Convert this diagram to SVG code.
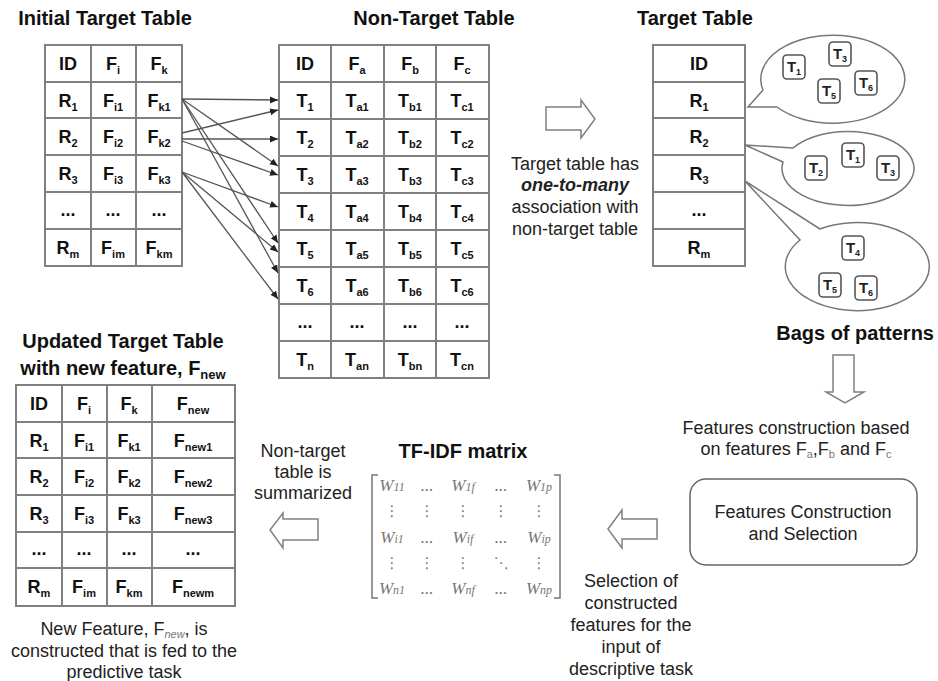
<svg xmlns="http://www.w3.org/2000/svg" width="938" height="681" viewBox="0 0 938 681">
<defs>
<style>
text{font-family:"Liberation Sans",Arial,sans-serif}
.title{font-size:20px;font-weight:bold;fill:#111}
.cell{font-size:18px;font-weight:bold;fill:#111;text-anchor:middle}
.sub{font-size:11px}
.body{font-size:18px;fill:#222;text-anchor:middle}
.grid{stroke:#808080;stroke-width:2;fill:#fff}
.gl{stroke:#808080;stroke-width:2;fill:none}
.conn{stroke:#555;stroke-width:1.3;fill:none;marker-end:url(#ah)}
.blk{fill:#fff;stroke:#808080;stroke-width:1.5}
.bub{fill:#fff;stroke:#777;stroke-width:1.5}
.tb{fill:#fff;stroke:#555;stroke-width:1.6}
.tt{font-size:15px;font-weight:bold;fill:#222;text-anchor:middle}
.ts{font-size:9px}
.w{font-family:"Liberation Serif",serif;font-style:italic;font-size:17px;fill:#777;text-anchor:middle}
.ws{font-size:12px}
.vd{font-family:"DejaVu Sans",sans-serif;font-size:15px;fill:#777;text-anchor:middle}
</style>
<marker id="ah" markerUnits="userSpaceOnUse" markerWidth="9" markerHeight="8" refX="8" refY="3.5" orient="auto">
<path d="M0,0 L8,3.5 L0,7 z" fill="#222"/>
</marker>
</defs>
<rect width="938" height="681" fill="#fff"/>

<!-- Initial Target Table -->
<g id="initial-table">
<text class="title" x="105" y="25" text-anchor="middle">Initial Target Table</text>
<rect class="grid" x="45" y="45" width="137" height="221"/>
<path class="gl" d="M91,45V266M136,45V266M45,82H182M45,118H182M45,155H182M45,192H182M45,229H182"/>
<text class="cell" x="68" y="70">ID</text>
<text class="cell" x="113" y="70">F<tspan class="sub" dy="4">i</tspan></text>
<text class="cell" x="159" y="70">F<tspan class="sub" dy="4">k</tspan></text>
<text class="cell" x="68" y="107">R<tspan class="sub" dy="4">1</tspan></text>
<text class="cell" x="113" y="107">F<tspan class="sub" dy="4">i1</tspan></text>
<text class="cell" x="159" y="107">F<tspan class="sub" dy="4">k1</tspan></text>
<text class="cell" x="68" y="143">R<tspan class="sub" dy="4">2</tspan></text>
<text class="cell" x="113" y="143">F<tspan class="sub" dy="4">i2</tspan></text>
<text class="cell" x="159" y="143">F<tspan class="sub" dy="4">k2</tspan></text>
<text class="cell" x="68" y="180">R<tspan class="sub" dy="4">3</tspan></text>
<text class="cell" x="113" y="180">F<tspan class="sub" dy="4">i3</tspan></text>
<text class="cell" x="159" y="180">F<tspan class="sub" dy="4">k3</tspan></text>
<text class="cell" x="68" y="216">...</text>
<text class="cell" x="113" y="216">...</text>
<text class="cell" x="159" y="216">...</text>
<text class="cell" x="68" y="254">R<tspan class="sub" dy="4">m</tspan></text>
<text class="cell" x="113" y="254">F<tspan class="sub" dy="4">im</tspan></text>
<text class="cell" x="159" y="254">F<tspan class="sub" dy="4">km</tspan></text>
</g>

<!-- Non-Target Table -->
<g id="non-target-table">
<text class="title" x="434" y="25" text-anchor="middle">Non-Target Table</text>
<rect class="grid" x="279" y="45" width="210" height="333"/>
<path class="gl" d="M331,45V378M384,45V378M436,45V378M279,82H489M279,119H489M279,156H489M279,193H489M279,230H489M279,267H489M279,304H489M279,341H489"/>
<text class="cell" x="305" y="70">ID</text>
<text class="cell" x="357" y="70">F<tspan class="sub" dy="4">a</tspan></text>
<text class="cell" x="410" y="70">F<tspan class="sub" dy="4">b</tspan></text>
<text class="cell" x="462" y="70">F<tspan class="sub" dy="4">c</tspan></text>
<text class="cell" x="305" y="107">T<tspan class="sub" dy="4">1</tspan></text>
<text class="cell" x="357" y="107">T<tspan class="sub" dy="4">a1</tspan></text>
<text class="cell" x="410" y="107">T<tspan class="sub" dy="4">b1</tspan></text>
<text class="cell" x="462" y="107">T<tspan class="sub" dy="4">c1</tspan></text>
<text class="cell" x="305" y="144">T<tspan class="sub" dy="4">2</tspan></text>
<text class="cell" x="357" y="144">T<tspan class="sub" dy="4">a2</tspan></text>
<text class="cell" x="410" y="144">T<tspan class="sub" dy="4">b2</tspan></text>
<text class="cell" x="462" y="144">T<tspan class="sub" dy="4">c2</tspan></text>
<text class="cell" x="305" y="181">T<tspan class="sub" dy="4">3</tspan></text>
<text class="cell" x="357" y="181">T<tspan class="sub" dy="4">a3</tspan></text>
<text class="cell" x="410" y="181">T<tspan class="sub" dy="4">b3</tspan></text>
<text class="cell" x="462" y="181">T<tspan class="sub" dy="4">c3</tspan></text>
<text class="cell" x="305" y="218">T<tspan class="sub" dy="4">4</tspan></text>
<text class="cell" x="357" y="218">T<tspan class="sub" dy="4">a4</tspan></text>
<text class="cell" x="410" y="218">T<tspan class="sub" dy="4">b4</tspan></text>
<text class="cell" x="462" y="218">T<tspan class="sub" dy="4">c4</tspan></text>
<text class="cell" x="305" y="255">T<tspan class="sub" dy="4">5</tspan></text>
<text class="cell" x="357" y="255">T<tspan class="sub" dy="4">a5</tspan></text>
<text class="cell" x="410" y="255">T<tspan class="sub" dy="4">b5</tspan></text>
<text class="cell" x="462" y="255">T<tspan class="sub" dy="4">c5</tspan></text>
<text class="cell" x="305" y="292">T<tspan class="sub" dy="4">6</tspan></text>
<text class="cell" x="357" y="292">T<tspan class="sub" dy="4">a6</tspan></text>
<text class="cell" x="410" y="292">T<tspan class="sub" dy="4">b6</tspan></text>
<text class="cell" x="462" y="292">T<tspan class="sub" dy="4">c6</tspan></text>
<text class="cell" x="305" y="328">...</text>
<text class="cell" x="357" y="328">...</text>
<text class="cell" x="410" y="328">...</text>
<text class="cell" x="462" y="328">...</text>
<text class="cell" x="305" y="366">T<tspan class="sub" dy="4">n</tspan></text>
<text class="cell" x="357" y="366">T<tspan class="sub" dy="4">an</tspan></text>
<text class="cell" x="410" y="366">T<tspan class="sub" dy="4">bn</tspan></text>
<text class="cell" x="462" y="366">T<tspan class="sub" dy="4">cn</tspan></text>
</g>

<!-- Connectors -->
<g id="connectors">
<path class="conn" d="M182,99L278,100"/>
<path class="conn" d="M182,99L278,166"/>
<path class="conn" d="M182,99L278,243"/>
<path class="conn" d="M182,99L278,273"/>
<path class="conn" d="M182,133L278,110"/>
<path class="conn" d="M182,139L278,139"/>
<path class="conn" d="M182,141L278,175"/>
<path class="conn" d="M182,172L278,207"/>
<path class="conn" d="M182,172L278,252"/>
<path class="conn" d="M182,172L278,299"/>
</g>

<!-- Association arrow and text -->
<g id="association">
<path class="blk" d="M546,107H581V100L595,119L581,138V130H546Z"/>
<text class="body" x="575" y="170">Target table has</text>
<text class="body" x="575" y="191" font-style="italic" font-weight="bold">one-to-many</text>
<text class="body" x="575" y="213">association with</text>
<text class="body" x="575" y="235">non-target table</text>
</g>

<!-- Target Table -->
<g id="target-table">
<text class="title" x="695" y="25" text-anchor="middle">Target Table</text>
<rect class="grid" x="653" y="45" width="92" height="221"/>
<path class="gl" d="M653,82H745M653,118H745M653,155H745M653,192H745M653,229H745"/>
<text class="cell" x="699" y="70">ID</text>
<text class="cell" x="699" y="107">R<tspan class="sub" dy="4">1</tspan></text>
<text class="cell" x="699" y="143">R<tspan class="sub" dy="4">2</tspan></text>
<text class="cell" x="699" y="180">R<tspan class="sub" dy="4">3</tspan></text>
<text class="cell" x="699" y="216">...</text>
<text class="cell" x="699" y="254">R<tspan class="sub" dy="4">m</tspan></text>
</g>

<!-- Bubbles -->
<g id="bubble-r1">
<path class="bub" d="M763,90L748,107L777,107A72,44 0 1 0 763,90Z"/>
<rect class="tb" x="783" y="55" width="22" height="24" rx="4"/><text class="tt" x="794" y="72">T<tspan class="ts" dy="3">1</tspan></text>
<rect class="tb" x="829" y="42" width="22" height="24" rx="4"/><text class="tt" x="840" y="59">T<tspan class="ts" dy="3">3</tspan></text>
<rect class="tb" x="855" y="71" width="22" height="24" rx="4"/><text class="tt" x="866" y="88">T<tspan class="ts" dy="3">6</tspan></text>
<rect class="tb" x="818" y="79" width="22" height="24" rx="4"/><text class="tt" x="829" y="96">T<tspan class="ts" dy="3">5</tspan></text>
</g>
<g id="bubble-r2">
<path class="bub" d="M793,148L745,145L783,162A66,37 0 1 0 793,148Z"/>
<rect class="tb" x="805" y="156" width="22" height="24" rx="4"/><text class="tt" x="816" y="173">T<tspan class="ts" dy="3">2</tspan></text>
<rect class="tb" x="842" y="143" width="22" height="24" rx="4"/><text class="tt" x="853" y="160">T<tspan class="ts" dy="3">1</tspan></text>
<rect class="tb" x="877" y="156" width="22" height="24" rx="4"/><text class="tt" x="888" y="173">T<tspan class="ts" dy="3">3</tspan></text>
</g>
<g id="bubble-r3">
<path class="bub" d="M820,229L745,181L800,240A72,44 0 1 0 820,229Z"/>
<rect class="tb" x="842" y="236" width="22" height="24" rx="4"/><text class="tt" x="853" y="253">T<tspan class="ts" dy="3">4</tspan></text>
<rect class="tb" x="819" y="273" width="22" height="24" rx="4"/><text class="tt" x="830" y="290">T<tspan class="ts" dy="3">5</tspan></text>
<rect class="tb" x="855" y="276" width="22" height="24" rx="4"/><text class="tt" x="866" y="293">T<tspan class="ts" dy="3">6</tspan></text>
</g>

<!-- Bags of patterns and down arrow -->
<g id="bags">
<text class="title" x="934" y="340" text-anchor="end" font-size="17">Bags of patterns</text>
<path class="blk" d="M833,355H854V392H864L845,403L826,392H833Z"/>
<text class="body" x="796" y="434">Features construction based</text>
<text class="body" x="796" y="455">on features F<tspan class="sub" dy="3" fill="#777">a</tspan><tspan dy="-3">,F</tspan><tspan class="sub" dy="3" fill="#777">b</tspan><tspan dy="-3"> and F</tspan><tspan class="sub" dy="3" fill="#777">c</tspan></text>
</g>

<!-- Features Construction and Selection -->
<g id="feature-box">
<rect x="690" y="479" width="227" height="86" rx="16" fill="#fff" stroke="#666" stroke-width="1.5"/>
<text class="body" x="803" y="518">Features Construction</text>
<text class="body" x="803" y="540">and Selection</text>
</g>

<!-- Selection arrow -->
<g id="selection">
<path class="blk" d="M657,519H622V510L608,529L622,548V539H657Z"/>
<text class="body" x="631" y="587">Selection of</text>
<text class="body" x="631" y="609">constructed</text>
<text class="body" x="631" y="631">features for the</text>
<text class="body" x="631" y="653">input of</text>
<text class="body" x="631" y="675">descriptive task</text>
</g>

<!-- TF-IDF matrix -->
<g id="tfidf-matrix">
<text class="title" x="463" y="458" text-anchor="middle">TF-IDF matrix</text>
<path d="M378,475H372V598H378M554,475H560V598H554" fill="none" stroke="#777" stroke-width="1.5"/>
<text class="w" x="392" y="491">W<tspan class="ws">11</tspan></text>
<text class="w" x="427" y="491">...</text>
<text class="w" x="463" y="491">W<tspan class="ws">1f</tspan></text>
<text class="w" x="501" y="491">...</text>
<text class="w" x="539" y="491">W<tspan class="ws">1p</tspan></text>
<text class="vd" x="392" y="516">⋮</text>
<text class="vd" x="427" y="516">⋮</text>
<text class="vd" x="463" y="516">⋮</text>
<text class="vd" x="501" y="516">⋮</text>
<text class="vd" x="539" y="516">⋮</text>
<text class="w" x="392" y="543">W<tspan class="ws">i1</tspan></text>
<text class="w" x="427" y="543">...</text>
<text class="w" x="463" y="543">W<tspan class="ws">if</tspan></text>
<text class="w" x="501" y="543">...</text>
<text class="w" x="539" y="543">W<tspan class="ws">ip</tspan></text>
<text class="vd" x="392" y="568">⋮</text>
<text class="vd" x="427" y="568">⋮</text>
<text class="vd" x="463" y="568">⋮</text>
<text class="vd" x="501" y="568">⋱</text>
<text class="vd" x="539" y="568">⋮</text>
<text class="w" x="392" y="594">W<tspan class="ws">n1</tspan></text>
<text class="w" x="427" y="594">...</text>
<text class="w" x="463" y="594">W<tspan class="ws">nf</tspan></text>
<text class="w" x="501" y="594">...</text>
<text class="w" x="539" y="594">W<tspan class="ws">np</tspan></text>
</g>

<!-- Summarized arrow -->
<g id="summarized">
<text class="body" x="303" y="457">Non-target</text>
<text class="body" x="303" y="478">table is</text>
<text class="body" x="303" y="499">summarized</text>
<path class="blk" d="M318,519H283V513L270,530L283,548V540H318Z"/>
</g>

<!-- Updated Target Table -->
<g id="updated-table">
<text class="title" x="123" y="348" text-anchor="middle">Updated Target Table</text>
<text class="title" x="123" y="375" text-anchor="middle">with new feature, F<tspan font-size="13" dy="4">new</tspan></text>
<rect class="grid" x="16" y="385" width="219" height="221"/>
<path class="gl" d="M62,385V606M107,385V606M152,385V606M16,422H235M16,458H235M16,495H235M16,532H235M16,568H235"/>
<text class="cell" x="39" y="410">ID</text>
<text class="cell" x="84" y="410">F<tspan class="sub" dy="4">i</tspan></text>
<text class="cell" x="129" y="410">F<tspan class="sub" dy="4">k</tspan></text>
<text class="cell" x="193" y="410">F<tspan class="sub" dy="4">new</tspan></text>
<text class="cell" x="39" y="447">R<tspan class="sub" dy="4">1</tspan></text>
<text class="cell" x="84" y="447">F<tspan class="sub" dy="4">i1</tspan></text>
<text class="cell" x="129" y="447">F<tspan class="sub" dy="4">k1</tspan></text>
<text class="cell" x="193" y="447">F<tspan class="sub" dy="4">new1</tspan></text>
<text class="cell" x="39" y="483">R<tspan class="sub" dy="4">2</tspan></text>
<text class="cell" x="84" y="483">F<tspan class="sub" dy="4">i2</tspan></text>
<text class="cell" x="129" y="483">F<tspan class="sub" dy="4">k2</tspan></text>
<text class="cell" x="193" y="483">F<tspan class="sub" dy="4">new2</tspan></text>
<text class="cell" x="39" y="520">R<tspan class="sub" dy="4">3</tspan></text>
<text class="cell" x="84" y="520">F<tspan class="sub" dy="4">i3</tspan></text>
<text class="cell" x="129" y="520">F<tspan class="sub" dy="4">k3</tspan></text>
<text class="cell" x="193" y="520">F<tspan class="sub" dy="4">new3</tspan></text>
<text class="cell" x="39" y="555">...</text>
<text class="cell" x="84" y="555">...</text>
<text class="cell" x="129" y="555">...</text>
<text class="cell" x="193" y="555">...</text>
<text class="cell" x="39" y="593">R<tspan class="sub" dy="4">m</tspan></text>
<text class="cell" x="84" y="593">F<tspan class="sub" dy="4">im</tspan></text>
<text class="cell" x="129" y="593">F<tspan class="sub" dy="4">km</tspan></text>
<text class="cell" x="193" y="593">F<tspan class="sub" dy="4">newm</tspan></text>
<text class="body" x="124" y="635">New Feature, F<tspan class="sub" dy="3" fill="#777" font-style="italic">new</tspan><tspan dy="-3">, is</tspan></text>
<text class="body" x="124" y="657">constructed that is fed to the</text>
<text class="body" x="124" y="678">predictive task</text>
</g>
</svg>
